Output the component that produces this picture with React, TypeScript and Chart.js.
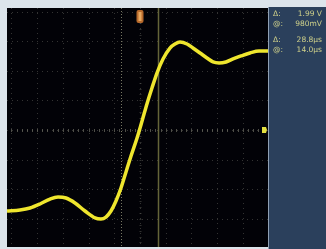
import { useEffect, useRef } from "react";
import { Chart, registerables } from "chart.js";

Chart.register(...registerables);

// Time (µs) and voltage (V) of the captured trace
const timeUs = [-103.5, -93.4, -85.6, -77.8, -70.0, -63.8, -57.6, -50.6, -42.8, -35.0, -30.4, -26.5, -22.6, -18.7, -14.8, -10.9, -7.0, -2.3, 1.6, 5.4, 9.3, 13.2, 17.9, 23.3, 27.2, 31.1, 36.6, 41.2, 46.7, 52.1, 56.8, 61.5, 66.9, 72.4, 78.6, 85.6, 92.6, 99.6];
const voltsV = [-1.027, -1.014, -0.989, -0.938, -0.875, -0.849, -0.862, -0.925, -1.027, -1.115, -1.128, -1.103, -1.027, -0.9, -0.735, -0.532, -0.33, -0.101, 0.114, 0.33, 0.532, 0.722, 0.9, 1.039, 1.09, 1.115, 1.09, 1.039, 0.976, 0.913, 0.862, 0.849, 0.862, 0.9, 0.938, 0.976, 1.001, 1.001];

// Graticule divisions
const timeDivs = [-100, -80, -60, -40, -20, 0, 20, 40, 60, 80, 100];
const voltDivs = [-1.5, -1.125, -0.75, -0.375, 0, 0.375, 0.75, 1.125, 1.5];
const minorTimeStep = 4;
const minorVoltStep = 0.075;

// Cursors and markers
const cursorDottedTime = -14.8;
const cursorSolidTime = 14.0;
const triggerTime = 0;
const channelZeroVolt = 0;

// Readout panel
const readoutSymbols = ["Δ:", "@:", "Δ:", "@:"];
const readoutValues = ["1.99 V", "980mV", "28.8μs", "14.0μs"];

const X_MIN = -103.5;
const X_MAX = 99.6;
const Y_MIN = -1.483;
const Y_MAX = 1.546;

export default function App() {
  const ref = useRef<HTMLCanvasElement | null>(null);

  useEffect(() => {
    document.body.style.margin = "0";
    const canvas = ref.current;
    if (!canvas) return;

    const scopePlugin = {
      id: "scope",
      beforeDraw(chart: any) {
        const { ctx, width, height, chartArea: a } = chart;
        ctx.save();
        ctx.fillStyle = "#dce4eb";
        ctx.fillRect(0, 0, width, height);
        ctx.fillStyle = "#020207";
        ctx.fillRect(a.left, a.top, a.right - a.left, a.bottom - a.top);
        ctx.restore();
      },
      beforeDatasetsDraw(chart: any) {
        const { ctx, chartArea: a, scales } = chart;
        const xs = scales.x;
        const ys = scales.y;
        ctx.save();
        ctx.beginPath();
        ctx.rect(a.left, a.top, a.right - a.left, a.bottom - a.top);
        ctx.clip();
        // dotted graticule
        ctx.strokeStyle = "rgba(85,85,80,0.6)";
        ctx.lineWidth = 1;
        ctx.setLineDash([1, 4]);
        for (const t of timeDivs) {
          const x = Math.round(xs.getPixelForValue(t)) + 0.5;
          ctx.beginPath();
          ctx.moveTo(x, a.top);
          ctx.lineTo(x, a.bottom);
          ctx.stroke();
        }
        for (const v of voltDivs) {
          const y = Math.round(ys.getPixelForValue(v)) + 0.5;
          ctx.beginPath();
          ctx.moveTo(a.left, y);
          ctx.lineTo(a.right, y);
          ctx.stroke();
        }
        ctx.setLineDash([]);
        // center axes with minor ticks
        const cx = Math.round(xs.getPixelForValue(0)) + 0.5;
        const cy = Math.round(ys.getPixelForValue(0)) + 0.5;
        ctx.strokeStyle = "rgba(105,105,95,0.75)";
        for (let t = -104; t <= 100; t += minorTimeStep) {
          const x = Math.round(xs.getPixelForValue(t)) + 0.5;
          ctx.beginPath();
          ctx.moveTo(x, cy - 1.5);
          ctx.lineTo(x, cy + 1.5);
          ctx.stroke();
        }
        ctx.strokeStyle = "rgba(80,80,75,0.6)";
        for (let v = -1.5; v <= 1.55; v += minorVoltStep) {
          const y = Math.round(ys.getPixelForValue(v)) + 0.5;
          ctx.beginPath();
          ctx.moveTo(cx - 1, y);
          ctx.lineTo(cx + 1, y);
          ctx.stroke();
        }
        // cursors
        const xd = Math.round(xs.getPixelForValue(cursorDottedTime)) + 0.5;
        ctx.strokeStyle = "rgba(140,140,115,0.85)";
        ctx.setLineDash([1, 2]);
        ctx.beginPath();
        ctx.moveTo(xd, a.top);
        ctx.lineTo(xd, a.bottom);
        ctx.stroke();
        ctx.setLineDash([]);
        const xsol = Math.round(xs.getPixelForValue(cursorSolidTime)) + 0.5;
        ctx.strokeStyle = "rgba(105,105,60,0.95)";
        ctx.lineWidth = 1.5;
        ctx.beginPath();
        ctx.moveTo(xsol, a.top);
        ctx.lineTo(xsol, a.bottom);
        ctx.stroke();
        ctx.restore();
      },
      afterDatasetsDraw(chart: any) {
        const { ctx, chartArea: a, scales, width, height } = chart;
        const xs = scales.x;
        const ys = scales.y;
        ctx.save();
        // trigger marker
        const tx = xs.getPixelForValue(triggerTime);
        ctx.fillStyle = "#b86a2c";
        ctx.beginPath();
        ctx.roundRect(tx - 3.5, a.top + 2, 7, 13, 2);
        ctx.fill();
        ctx.fillStyle = "#e8a860";
        ctx.fillRect(tx - 1.5, a.top + 4, 3, 9);
        // channel marker
        const my = ys.getPixelForValue(channelZeroVolt);
        ctx.fillStyle = "#e4e040";
        ctx.beginPath();
        ctx.moveTo(a.right - 6, my - 3);
        ctx.lineTo(a.right - 2, my - 3);
        ctx.lineTo(a.right - 1, my);
        ctx.lineTo(a.right - 2, my + 3);
        ctx.lineTo(a.right - 6, my + 3);
        ctx.closePath();
        ctx.fill();
        // readout panel
        const px = a.right + 1;
        ctx.fillStyle = "#2b405c";
        ctx.fillRect(px, a.top - 1, width - px, height - a.top + 1);
        ctx.fillStyle = "#8fa0b4";
        ctx.fillRect(a.right, a.top - 1, 1, height - a.top + 1);
        ctx.font = "7.5px 'DejaVu Sans'";
        ctx.textBaseline = "middle";
        const rows = [14, 24, 40, 50];
        readoutSymbols.forEach((s, i) => {
          ctx.fillStyle = "#cfd08a";
          ctx.textAlign = "left";
          ctx.fillText(s, px + 4, rows[i]);
          ctx.textAlign = "right";
          ctx.fillText(readoutValues[i], width - 4, rows[i]);
        });
        ctx.restore();
      },
    };

    const chart = new Chart(canvas, {
      type: "line",
      data: {
        datasets: [
          {
            data: timeUs.map((t, i) => ({ x: t, y: voltsV[i] })),
            borderColor: "#efe62e",
            borderWidth: 3.5,
            pointRadius: 0,
            tension: 0.4,
            cubicInterpolationMode: "monotone",
            fill: false,
          },
        ],
      },
      options: {
        responsive: false,
        animation: false,
        layout: { padding: { left: 7, top: 8, right: 58, bottom: 2 } },
        plugins: { legend: { display: false }, tooltip: { enabled: false } },
        scales: {
          x: { type: "linear", min: X_MIN, max: X_MAX, display: false },
          y: { type: "linear", min: Y_MIN, max: Y_MAX, display: false },
        },
      },
      plugins: [scopePlugin],
    });
    return () => chart.destroy();
  }, []);

  return <canvas ref={ref} width={326} height={249} style={{ display: "block" }} />;
}
